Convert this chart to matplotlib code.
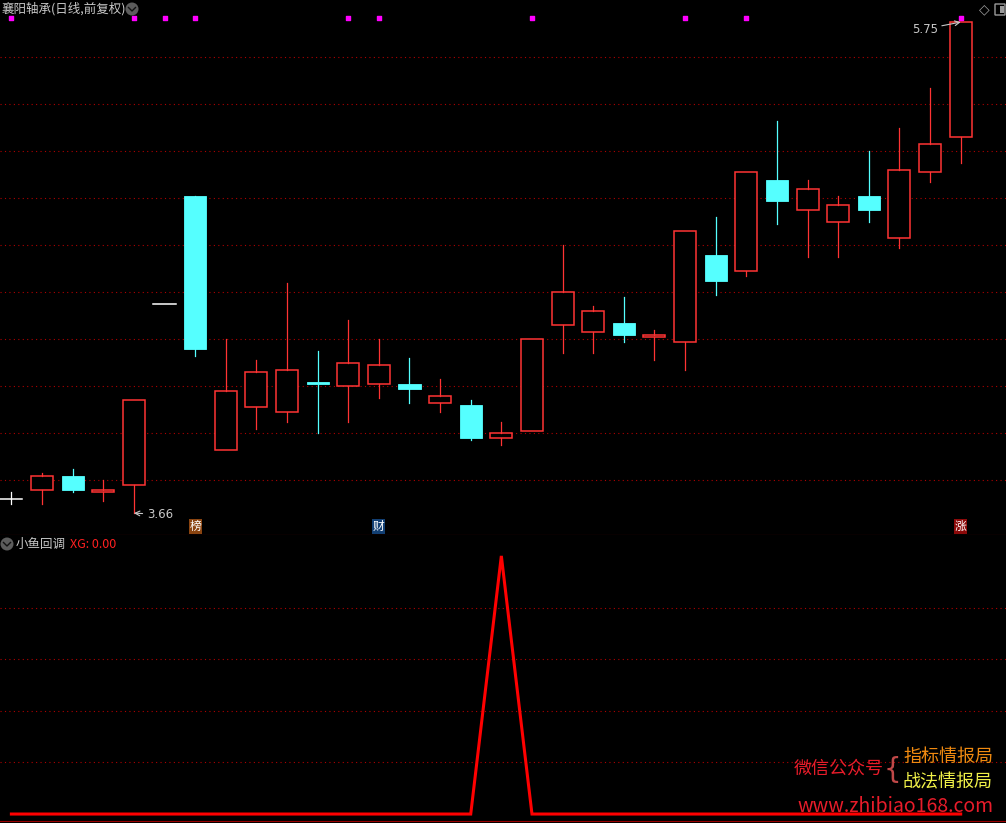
import matplotlib
matplotlib.use("Agg")
import matplotlib.pyplot as plt
from matplotlib.patches import Rectangle, Ellipse, FancyBboxPatch
from matplotlib.lines import Line2D
import matplotlib.transforms as mtransforms

plt.rcParams['font.family'] = ['Noto Sans CJK SC', 'DejaVu Sans']

# daily K-line data
opens  = [3.72, 3.76, 3.82, 3.75, 3.78, 4.55, 5.01, 3.93, 4.11, 4.09, 4.22, 4.20, 4.21, 4.21, 4.13, 4.12,
          3.98, 4.01, 4.46, 4.43, 4.47, 4.41, 4.39, 4.76, 4.69, 5.08, 4.95, 4.90, 5.01, 4.83, 5.11, 5.26]
highs  = [3.75, 3.83, 3.85, 3.80, 4.14, 4.55, 5.01, 4.40, 4.31, 4.64, 4.35, 4.48, 4.40, 4.32, 4.23, 4.14,
          4.05, 4.40, 4.80, 4.54, 4.58, 4.44, 4.86, 4.92, 5.11, 5.33, 5.08, 5.01, 5.20, 5.30, 5.47, 5.75]
lows   = [3.70, 3.70, 3.75, 3.71, 3.66, 4.55, 4.33, 3.93, 4.02, 4.05, 4.00, 4.05, 4.15, 4.13, 4.09, 3.97,
          3.95, 4.01, 4.34, 4.34, 4.39, 4.31, 4.27, 4.59, 4.67, 4.89, 4.75, 4.75, 4.90, 4.79, 5.07, 5.15]
closes = [3.72, 3.82, 3.76, 3.76, 4.14, 4.55, 4.36, 4.18, 4.26, 4.27, 4.21, 4.30, 4.29, 4.19, 4.16, 3.98,
          4.00, 4.40, 4.60, 4.52, 4.42, 4.42, 4.86, 4.65, 5.11, 4.99, 5.04, 4.97, 4.95, 5.12, 5.23, 5.75]

# 小鱼回调 XG signal
xg = [0, 0, 0, 0, 0, 0, 0, 0, 0, 0, 0, 0, 0, 0, 0, 0,
      1, 0, 0, 0, 0, 0, 0, 0, 0, 0, 0, 0, 0, 0, 0, 0]

mark_idx = [0, 4, 5, 6, 11, 12, 17, 22, 24, 31]   # magenta dots on top
badge_idx = [6, 12, 31]
badge_txt = ['榜', '财', '涨']
badge_bg = ['#8a4410', '#123f73', '#8c0a0a']
grid_main = [3.8, 4.0, 4.2, 4.4, 4.6, 4.8, 5.0, 5.2, 5.4, 5.6]
grid_sub = [0.2, 0.4, 0.6, 0.8]

RED = '#ff3333'
CYAN = '#55ffff'
GRIDC = '#b00000'
W, H = 1006, 823

fig = plt.figure(figsize=(W / 100, H / 100), dpi=100, facecolor='black')

ax = fig.add_axes([0, (H - 535) / H, 1, 535 / H])
ax.set_facecolor('black')
ax.set_xlim(-0.372, 32.48)
ax.set_ylim(3.567, 5.844)
for s in ax.spines.values():
    s.set_visible(False)
ax.spines['bottom'].set_visible(True)
ax.spines['bottom'].set_color('#990000')
ax.set_xticks([])
ax.set_yticks([])
for g in grid_main:
    ax.axhline(g, color=GRIDC, lw=0.8, ls=(0, (1, 3)), zorder=0)

bw = 0.72
for i in range(len(opens)):
    o, h, l, c = opens[i], highs[i], lows[i], closes[i]
    if c > o:
        ax.plot([i, i], [c, h], color=RED, lw=0.9)
        ax.plot([i, i], [l, o], color=RED, lw=0.9)
        ax.add_patch(Rectangle((i - bw / 2, o), bw, c - o, facecolor='black', edgecolor=RED, lw=1.1))
    elif c < o:
        ax.plot([i, i], [l, h], color=CYAN, lw=0.9)
        ax.add_patch(Rectangle((i - bw / 2, c), bw, o - c, facecolor=CYAN, edgecolor=CYAN, lw=0.6))
    else:
        ax.plot([i, i], [l, h], color='white', lw=0.9)
        ax.plot([i - bw / 2, i + bw / 2], [c, c], color='white', lw=1.1)

tr = mtransforms.blended_transform_factory(ax.transData, ax.transAxes)
ax.scatter(mark_idx, [0.967] * len(mark_idx), transform=tr, marker='s', s=7, color='#ff00ff', zorder=5)
for i, t, bg in zip(badge_idx, badge_txt, badge_bg):
    ax.text(i, 0.016, t, transform=tr, ha='center', va='center', fontsize=8.5, color='white',
            bbox=dict(boxstyle='square,pad=0.06', facecolor=bg, edgecolor='none'))

lo_i = lows.index(min(lows))
hi_i = highs.index(max(highs))
ax.annotate('%.2f' % lows[lo_i], xy=(lo_i, lows[lo_i]), xytext=(lo_i + 0.42, lows[lo_i] - 0.005),
            color='#c8c8c8', fontsize=8.5, va='center', ha='left', family='DejaVu Sans',
            arrowprops=dict(arrowstyle='->', color='#c8c8c8', lw=0.8, shrinkA=1, shrinkB=0))
ax.annotate('%.2f' % highs[hi_i], xy=(hi_i, highs[hi_i]), xytext=(hi_i - 0.75, highs[hi_i] - 0.03),
            color='#c8c8c8', fontsize=8.5, va='center', ha='right', family='DejaVu Sans',
            arrowprops=dict(arrowstyle='->', color='#c8c8c8', lw=0.8, shrinkA=1, shrinkB=0))

# lower panel
ax2 = fig.add_axes([0, 2 / H, 1, (821 - 535) / H])
ax2.set_facecolor('black')
ax2.set_xlim(-0.372, 32.48)
ax2.set_ylim(-0.027, 1.081)
for s in ax2.spines.values():
    s.set_visible(False)
ax2.spines['bottom'].set_visible(True)
ax2.spines['bottom'].set_color('#990000')
ax2.set_xticks([])
ax2.set_yticks([])
for g in grid_sub:
    ax2.axhline(g, color=GRIDC, lw=0.8, ls=(0, (1, 3)), zorder=0)
ax2.plot(range(len(xg)), xg, color='#ff0000', lw=2.2, solid_joinstyle='miter')


def icon(x, y):
    fig.add_artist(Ellipse((x / W, 1 - y / H), 13 / W, 13 / H, facecolor='#5c5c5c', edgecolor='none'))
    fig.add_artist(Line2D([(x - 3.5) / W, x / W, (x + 3.5) / W],
                          [1 - (y - 1.5) / H, 1 - (y + 2) / H, 1 - (y - 1.5) / H],
                          color='#111111', lw=1.0))


fig.text(2 / W, 1 - 9 / H, '襄阳轴承(日线,前复权)', color='#c8c8c8', fontsize=9, va='center', ha='left')
icon(132, 9)
fig.text(984 / W, 1 - 9 / H, '◇', color='#9a9a9a', fontsize=10, va='center', ha='center', family='DejaVu Sans')
fig.add_artist(FancyBboxPatch((995 / W, 1 - 15 / H), 10 / W, 11 / H, boxstyle='round,pad=0',
                              facecolor='none', edgecolor='#9a9a9a', lw=1.0))
fig.add_artist(Rectangle((1000 / W, 1 - 13 / H), 4 / W, 7 / H, facecolor='#9a9a9a', edgecolor='none'))

icon(7, 544)
fig.text(16 / W, 1 - 544 / H, '小鱼回调', color='#c8c8c8', fontsize=9, va='center', ha='left')
fig.text(70 / W, 1 - 544 / H, 'XG: %.2f' % xg[-1], color='#ff2020', fontsize=9, va='center', ha='left')

# watermark
fig.text(884 / W, 1 - 769 / H, '微信公众号', color='#e81c2a', fontsize=13, va='center', ha='right')
fig.text(892 / W, 1 - 770 / H, '{', color='#c04848', fontsize=20, va='center', ha='center', family='DejaVu Sans')
fig.text(903 / W, 1 - 757 / H, '指标情报局', color='#f08a10', fontsize=13, va='center', ha='left')
fig.text(903 / W, 1 - 782 / H, '战法情报局', color='#f0f048', fontsize=13, va='center', ha='left')
fig.text(994 / W, 1 - 806 / H, 'www.zhibiao168.com', color='#e81c2a', fontsize=14, va='center', ha='right')

fig.savefig('out.png', dpi=100, facecolor='black')
